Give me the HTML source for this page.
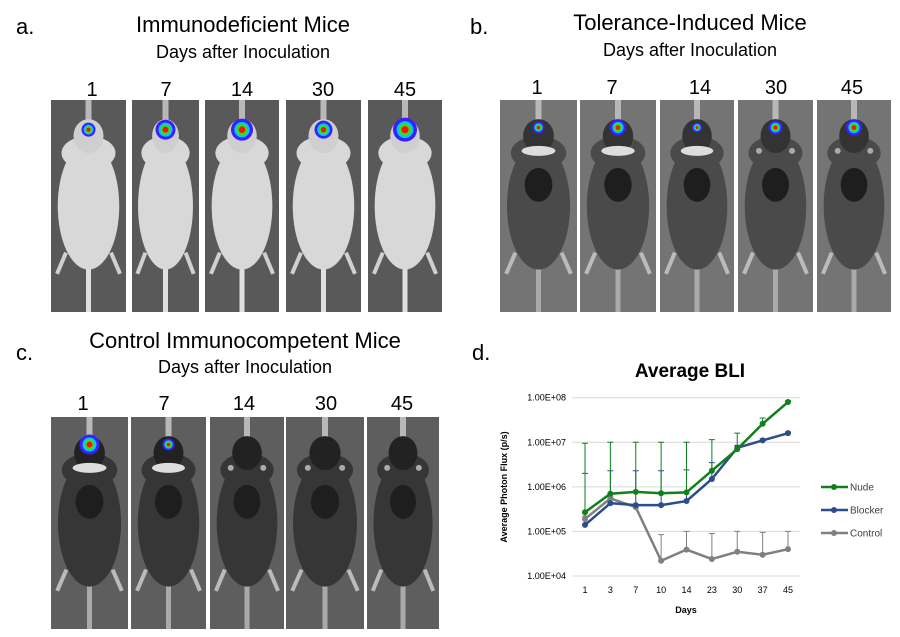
<!DOCTYPE html>
<html><head><meta charset="utf-8">
<style>
body{margin:0;background:#fff;}
#root{position:relative;width:900px;height:637px;overflow:hidden;font-family:"Liberation Sans",sans-serif;}
.t{position:absolute;white-space:nowrap;color:#000;}
</style></head>
<body>
<div id="root">
<div class="t" style="left:16px;top:14px;font-size:22px">a.</div>
<div class="t" style="left:132px;top:12px;width:222px;text-align:center;font-size:22px">Immunodeficient Mice</div>
<div class="t" style="left:132px;top:42px;width:222px;text-align:center;font-size:18px">Days after Inoculation</div>
<div class="t" style="left:470px;top:14px;font-size:22px">b.</div>
<div class="t" style="left:560px;top:10px;width:260px;text-align:center;font-size:22px">Tolerance-Induced Mice</div>
<div class="t" style="left:560px;top:40px;width:260px;text-align:center;font-size:18px">Days after Inoculation</div>
<div class="t" style="left:16px;top:340px;font-size:22px">c.</div>
<div class="t" style="left:80px;top:328px;width:330px;text-align:center;font-size:22px">Control Immunocompetent Mice</div>
<div class="t" style="left:80px;top:357px;width:330px;text-align:center;font-size:18px">Days after Inoculation</div>
<div class="t" style="left:472px;top:340px;font-size:22px">d.</div>
<svg id="mice" width="900" height="637" style="position:absolute;left:0;top:0"></svg>
<svg id="chart" width="900" height="637" style="position:absolute;left:0;top:0"></svg>
</div>
<script>
const NS="http://www.w3.org/2000/svg";
function mk(p,t,a){const e=document.createElementNS(NS,t);for(const k in a)e.setAttribute(k,a[k]);p.appendChild(e);return e;}
const mice=document.getElementById('mice');
const panels=[
 {x:[51,132,205,286,368],w:[75,67,74,75,74],y:100,h:212,body:'#d8d8d8',head:'#cfcfcf',bg:'#595959',lx:[92,166,242,323,405],ly:88,spot:[7,10,11,9,12],band:[0,0,0,0,0]},
 {x:[500,580,660,738,817],w:[77,76,74,75,74],y:100,h:212,body:'#4a4a4a',head:'#333',bg:'#747474',lx:[537,612,700,776,852],ly:86,spot:[6,8,5,7,8],band:[1,1,1,0,0]},
 {x:[51,131,210,286,367],w:[77,75,74,78,72],y:417,h:212,body:'#363636',head:'#222',bg:'#5e5e5e',lx:[83,164,244,326,402],ly:402,spot:[10,6,0,0,0],band:[1,1,0,0,0]}
];
const days=['1','7','14','30','45'];
panels.forEach((p,pi)=>{
 p.x.forEach((x,i)=>{
  const w=p.w[i],cx=x+w/2,H=p.h,Y=p.y;
  const g=mk(mice,'g',{});
  
  
  mk(g,'rect',{x:x,y:Y,width:w,height:H,fill:p.bg});
  mk(g,'rect',{x:cx-3,y:Y,width:6,height:30,fill:'#b8b8b8'});
  mk(g,'rect',{x:cx-2.5,y:Y+H*0.72,width:5,height:H*0.28,fill:pi==0?'#e0e0e0':'#aaa'});
  const legc=pi==0?'#d0d0d0':'#bbb';
  mk(g,'path',{d:`M${cx-w*0.3},${Y+H*0.72}l${-w*0.12},${H*0.1}M${cx+w*0.3},${Y+H*0.72}l${w*0.12},${H*0.1}`,stroke:legc,'stroke-width':4,fill:'none'});
  mk(g,'ellipse',{cx:cx,cy:Y+H*0.5,rx:w*0.41,ry:H*0.3,fill:p.body});
  mk(g,'ellipse',{cx:cx,cy:Y+H*0.25,rx:w*0.36,ry:H*0.08,fill:p.body});
  mk(g,'ellipse',{cx:cx,cy:Y+H*0.17,rx:w*0.2,ry:H*0.08,fill:p.head});
  if(pi>0){
   mk(g,'ellipse',{cx:cx,cy:Y+H*0.4,rx:w*0.18,ry:H*0.08,fill:'#1e1e1e'});
   if(p.band[i])mk(g,'ellipse',{cx:cx,cy:Y+H*0.24,rx:w*0.22,ry:5,fill:'#ddd'});
   else{mk(g,'circle',{cx:cx-w*0.22,cy:Y+H*0.24,r:3,fill:'#aaa'});mk(g,'circle',{cx:cx+w*0.22,cy:Y+H*0.24,r:3,fill:'#aaa'});}
  }
  const s=p.spot[i];
  if(s){const sy=Y+H*(pi==0?0.14:0.13);
   mk(g,'circle',{cx:cx,cy:sy,r:s,fill:'#3a20ff'});
   mk(g,'circle',{cx:cx,cy:sy,r:s*0.7,fill:'#00c8ff'});
   mk(g,'circle',{cx:cx,cy:sy,r:s*0.5,fill:'#40e000'});
   mk(g,'circle',{cx:cx,cy:sy,r:s*0.3,fill:'#ff1010'});}
  const t=mk(mice,'text',{x:p.lx[i],y:p.ly+8,'text-anchor':'middle','font-size':20,'font-family':'Liberation Sans, sans-serif'});
  t.textContent=days[i];
  
  
 });
});

// ---- chart data ----
const categories=['1','3','7','10','14','23','30','37','45'];
const nude=[2.7e5,7e5,7.7e5,7.2e5,7.5e5,2.3e6,7e6,2.6e7,8e7];
const blocker=[1.4e5,4.3e5,3.9e5,3.9e5,4.8e5,1.5e6,7.5e6,1.1e7,1.6e7];
const control=[1.9e5,5.5e5,3.5e5,2.2e4,3.9e4,2.4e4,3.5e4,3e4,4e4];
const nudeErr=[9.5e6,1e7,1e7,1e7,1e7,1.15e7,1.6e7,3.5e7,8.5e7];
const blockerErr=[2e6,2.3e6,2.3e6,2.3e6,2.4e6,3.5e6,8.5e6,1.2e7,1.7e7];
const controlErr=[2.2e5,6e5,3.7e5,8.5e4,1e5,9e4,1e5,9.5e4,1e5];
const yTicks=['1.00E+04','1.00E+05','1.00E+06','1.00E+07','1.00E+08'];
const legendNames=['Nude','Blocker','Control'];

const c=document.getElementById('chart');
const X0=572,X1=800,Ytop=397.7,Ybot=576;
const xs=i=>585+i*(788-585)/(categories.length-1);
const ys=v=>Ybot-(Math.log10(v)-4)*(Ybot-Ytop)/4;
function txt(x,y,s,a){const t=mk(c,'text',Object.assign({x:x,y:y,'font-family':'Liberation Sans, sans-serif'},a));t.textContent=s;return t;}
let t=txt(690,377,'Average BLI',{'text-anchor':'middle','font-size':19,'font-weight':'bold'});

yTicks.forEach((s,i)=>{
 const y=ys(Math.pow(10,4+i));
 const l=mk(c,'line',{x1:X0,x2:X1,y1:y,y2:y,stroke:'#d9d9d9','stroke-width':1});
 
 const tt=txt(566,y+3,s,{'text-anchor':'end','font-size':9});
 
});
categories.forEach((s,i)=>{
 const tt=txt(xs(i),593,s,{'text-anchor':'middle','font-size':9});
 
});
t=txt(686,613,'Days',{'text-anchor':'middle','font-size':9,'font-weight':'bold'});

t=txt(0,0,'Average Photon Flux (p/s)',{'text-anchor':'middle','font-size':9,'font-weight':'bold',transform:'translate(507,487) rotate(-90)'});

const series=[[nude,nudeErr,'#10801a'],[blocker,blockerErr,'#2c4c8c'],[control,controlErr,'#808080']];
series.slice().reverse().forEach(([vals,err,col])=>{
 vals.forEach((v,i)=>{
  const x=xs(i),y1=ys(err[i]);
  const e=mk(c,'path',{d:`M${x},${ys(v)}V${y1}M${x-3},${y1}H${x+3}`,stroke:col,'stroke-width':1,fill:'none'});
  
 });
});
[2,1,0].forEach(k=>{
 const [vals,,col]=series[k];
 const pl=mk(c,'polyline',{points:vals.map((v,i)=>xs(i)+','+ys(v)).join(' '),fill:'none',stroke:col,'stroke-width':2.5});
 
 vals.forEach((v,i)=>{
  const p=mk(c,'circle',{cx:xs(i),cy:ys(v),r:3,fill:col});
  
 });
});
series.forEach(([,,col],k)=>{
 const y=487+k*23;
 const g=mk(c,'g',{});
 
 mk(g,'line',{x1:821,x2:848,y1:y,y2:y,stroke:col,'stroke-width':2.5});
 mk(g,'circle',{cx:834,cy:y,r:3,fill:col});
 const tt=mk(g,'text',{x:850,y:y+3.5,'font-size':10,'font-family':'Liberation Sans, sans-serif',fill:'#404040'});
 tt.textContent=legendNames[k];
});
</script>
</body></html>
